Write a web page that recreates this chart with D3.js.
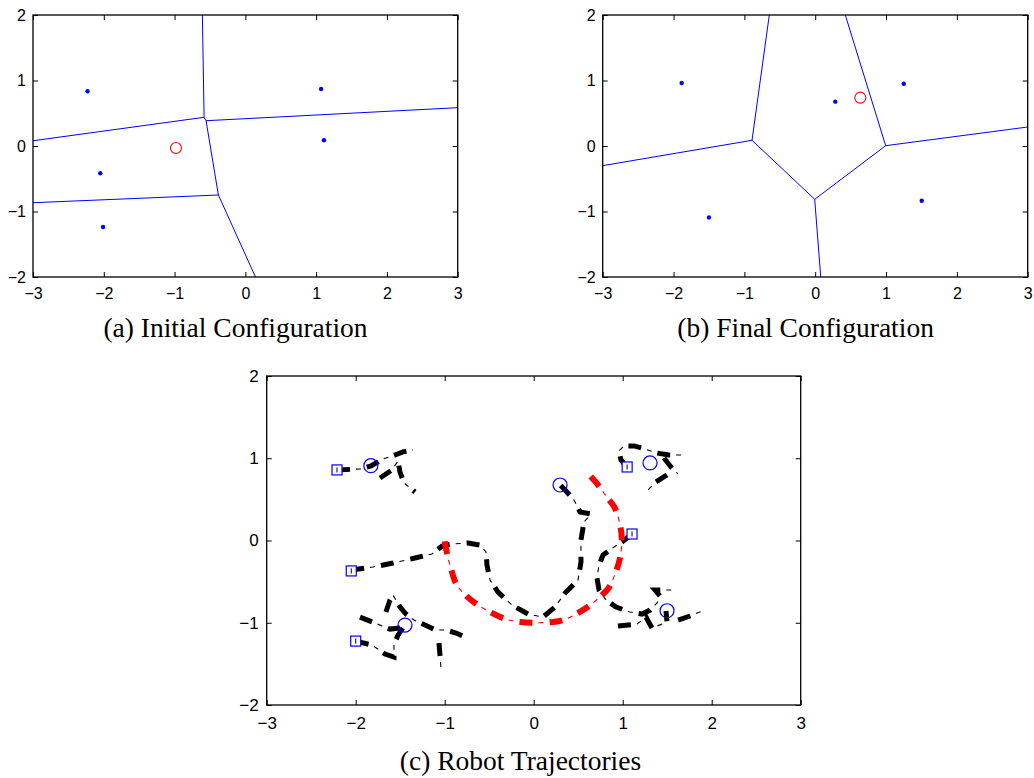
<!DOCTYPE html>
<html>
<head>
<meta charset="utf-8">
<title>Robot Coverage</title>
<style>
body { margin: 0; background: white; }
svg { display: block; }
.axis text { font-family: "Liberation Sans", Arial, sans-serif; fill: black; }
.axis line { stroke: black; }
.caption { font-family: "Liberation Serif", "Times New Roman", serif; font-size: 27.5px; fill: black; }
.frame { fill: none; stroke: black; stroke-width: 1.3; }
.voronoi { fill: none; stroke: blue; stroke-width: 1; }
</style>
</head>
<body>
<script src="https://d3js.org/d3.v7.min.js"></script>
<div id="chart"></div>
<script>
// initial robot positions (panel a)
var initX = [-2.23, -2.05, -2.01, 1.07, 1.11];
var initY = [0.835, -0.417, -1.237, 0.87, 0.087];
var initTarget = [-0.98, -0.03];

// final robot positions (panel b)
var finalX = [-1.885, -1.5, 0.284, 1.25, 1.504];
var finalY = [0.962, -1.09, 0.677, 0.951, -0.835];
var finalTarget = [0.637, 0.738];

// voronoi edges, as polylines
var voronoiA = [
    [[-0.607, 2], [-0.583, 0.438], [-3, 0.08]],
    [[-0.583, 0.438], [-0.555, 0.386], [3, 0.585]],
    [[-0.555, 0.386], [-0.381, -0.748], [-3, -0.866]],
    [[-0.381, -0.748], [0.143, -2]]
];
var voronoiB = [
    [[-3, -0.3], [-0.892, 0.087], [-0.648, 2]],
    [[-0.892, 0.087], [-0.007, -0.814], [0.078, -2]],
    [[-0.007, -0.814], [0.995, 0.005], [0.425, 2]],
    [[0.995, 0.005], [3, 0.29]]
];

// panel c: start squares, end circles
var startX = [-2.21, -2.05, -2.0, 1.05, 1.105];
var startY = [0.858, -0.37, -1.223, 0.894, 0.079];
var endX = [-1.83, -1.446, 0.296, 1.307, 1.498];
var endY = [0.91, -1.028, 0.675, 0.943, -0.854];

// target path (red)
var targetX = [-1.00, -0.97, -0.93, -0.87, -0.78, -0.66, -0.49, -0.30, -0.15, 0.02, 0.22, 0.35, 0.50, 0.63, 0.75, 0.84, 0.91, 0.97, 0.99, 0.97, 0.91, 0.82, 0.72, 0.63];
var targetY = [-0.01, -0.18, -0.34, -0.53, -0.65, -0.76, -0.87, -0.96, -0.99, -1.00, -0.99, -0.96, -0.88, -0.79, -0.68, -0.58, -0.42, -0.21, 0.01, 0.19, 0.40, 0.53, 0.68, 0.79];

// robot trajectories (black), pieces of each
var robotPaths = [
    [[-2.21, 0.858], [-1.951, 0.87], [-1.828, 0.906], [-1.693, 0.991], [-1.558, 1.04], [-1.469, 1.077], [-1.356, 1.101]],
    [[-1.727, 0.76], [-1.592, 0.858], [-1.525, 0.967], [-1.502, 0.833], [-1.458, 0.70], [-1.334, 0.59]],
    [[-1.997, -1.223], [-1.817, -1.271], [-1.671, -1.381], [-1.57, -1.417], [-1.57, -1.271], [-1.525, -1.15], [-1.446, -1.028]],
    [[-1.952, -0.931], [-1.783, -1.004], [-1.615, -1.077], [-1.502, -1.065]],
    [[-1.66, -0.87], [-1.615, -0.724], [-1.581, -0.663], [-1.502, -0.809], [-1.435, -0.894], [-1.345, -0.967], [-1.221, -1.028], [-1.098, -1.089], [-0.985, -1.089], [-0.873, -1.125], [-0.772, -1.174]],
    [[-1.064, -1.247], [-1.042, -1.551]],
    [[-2.05, -0.359], [-1.806, -0.322], [-1.581, -0.274], [-1.334, -0.213], [-1.143, -0.164], [-1.03, -0.067], [-0.918, -0.043], [-0.738, -0.03], [-0.603, -0.055], [-0.536, -0.14], [-0.525, -0.298], [-0.491, -0.48], [-0.401, -0.627], [-0.244, -0.785], [-0.064, -0.894], [0.104, -0.931], [0.239, -0.809], [0.352, -0.639], [0.498, -0.48], [0.531, -0.262], [0.531, 0.006], [0.565, 0.225], [0.644, 0.322], [0.52, 0.347], [0.453, 0.493], [0.363, 0.602], [0.296, 0.675]],
    [[1.048, 0.894], [0.981, 0.979], [0.958, 1.089], [1.014, 1.15], [1.127, 1.15], [1.25, 1.113], [1.374, 1.065], [1.52, 1.04], [1.689, 1.04]],
    [[1.464, 1.004], [1.542, 0.894], [1.621, 0.809]],
    [[1.498, 0.797], [1.374, 0.712], [1.284, 0.614]],
    [[1.105, 0.079], [0.992, -0.018], [0.869, -0.103], [0.779, -0.176], [0.734, -0.298], [0.711, -0.456], [0.734, -0.602], [0.812, -0.724], [0.925, -0.809], [1.082, -0.87], [1.217, -0.894], [1.307, -0.846], [1.385, -0.76], [1.419, -0.675], [1.363, -0.602], [1.554, -0.602]],
    [[0.947, -1.04], [1.161, -1.016], [1.262, -0.931], [1.329, -1.065], [1.498, -0.991], [1.486, -0.858]],
    [[1.622, -0.967], [1.757, -0.918], [1.891, -0.858]]
];

var xTicks = [-3, -2, -1, 0, 1, 2, 3];
var yTicks = [-2, -1, 0, 1, 2];

(function() {
    var dimensions = { width: 1034, height: 778 };
    var svg = d3.select("#chart")
        .append("svg")
        .attr("width", dimensions.width)
        .attr("height", dimensions.height);

    function make_panel(box) {
        var x = d3.scaleLinear().domain([-3, 3]).range([box.left, box.right]);
        var y = d3.scaleLinear().domain([-2, 2]).range([box.bottom, box.top]);
        var g = svg.append("g");
        var fmt = d3.format("d");

        g.append("g")
            .attr("class", "axis")
            .attr("transform", "translate(0," + box.bottom + ")")
            .call(d3.axisBottom(x).tickValues(xTicks).tickFormat(fmt)
                .tickSizeInner(-5).tickSizeOuter(0).tickPadding(box.padX));
        g.append("g")
            .attr("class", "axis")
            .attr("transform", "translate(0," + box.top + ")")
            .call(d3.axisTop(x).tickValues(xTicks).tickFormat("")
                .tickSizeInner(-5).tickSizeOuter(0));
        g.append("g")
            .attr("class", "axis")
            .attr("transform", "translate(" + box.left + ",0)")
            .call(d3.axisLeft(y).tickValues(yTicks).tickFormat(fmt)
                .tickSizeInner(-5).tickSizeOuter(0).tickPadding(box.padY));
        g.append("g")
            .attr("class", "axis")
            .attr("transform", "translate(" + box.right + ",0)")
            .call(d3.axisRight(y).tickValues(yTicks).tickFormat("")
                .tickSizeInner(-5).tickSizeOuter(0));
        g.selectAll(".domain").remove();
        g.selectAll(".axis").attr("font-size", box.fontSize).attr("font-family", null);

        var plot = g.append("g");

        g.append("rect")
            .attr("class", "frame")
            .attr("x", box.left)
            .attr("y", box.top)
            .attr("width", box.right - box.left)
            .attr("height", box.bottom - box.top);

        g.append("text")
            .attr("class", "caption")
            .attr("x", box.capX)
            .attr("y", box.capY)
            .attr("text-anchor", "middle")
            .text(box.caption);

        return { g: plot, x: x, y: y };
    }

    function draw_config(p, edges, px, py, target) {
        var line = d3.line()
            .x(function(d) { return p.x(d[0]); })
            .y(function(d) { return p.y(d[1]); });
        p.g.selectAll("path.voronoi")
            .data(edges)
            .enter().append("path")
            .attr("class", "voronoi")
            .attr("d", line);
        p.g.selectAll("circle.robot")
            .data(px)
            .enter().append("circle")
            .attr("class", "robot")
            .attr("cx", function(d) { return p.x(d); })
            .attr("cy", function(d, i) { return p.y(py[i]); })
            .attr("r", 2.2)
            .attr("fill", "blue");
        p.g.append("circle")
            .attr("cx", p.x(target[0]))
            .attr("cy", p.y(target[1]))
            .attr("r", 5.5)
            .attr("fill", "none")
            .attr("stroke", "red")
            .attr("stroke-width", 1.1);
    }

    var pa = make_panel({ left: 33, right: 457.7, top: 15, bottom: 277, padX: 10.5, padY: 7, fontSize: 16,
        caption: "(a) Initial Configuration", capX: 235.5, capY: 337 });
    draw_config(pa, voronoiA, initX, initY, initTarget);

    var pb = make_panel({ left: 602.7, right: 1027.7, top: 15, bottom: 277, padX: 10.5, padY: 7, fontSize: 16,
        caption: "(b) Final Configuration", capX: 805.6, capY: 337 });
    draw_config(pb, voronoiB, finalX, finalY, finalTarget);

    var pc = make_panel({ left: 266.7, right: 800.7, top: 376, bottom: 705, padX: 12, padY: 8, fontSize: 17,
        caption: "(c) Robot Trajectories", capX: 520.5, capY: 770 });

    var cline = d3.line()
        .x(function(d) { return pc.x(d[0]); })
        .y(function(d) { return pc.y(d[1]); });

    // dash-dot look: thick dashes plus thin dots in the gaps
    function dashdot(data, colour, width, curve) {
        var l = cline.curve(curve);
        var gp = pc.g.append("g");
        gp.selectAll("path.thick")
            .data(data)
            .enter().append("path")
            .attr("class", "thick")
            .attr("d", l)
            .attr("fill", "none")
            .attr("stroke", colour)
            .attr("stroke-width", width)
            .attr("stroke-dasharray", "13,17");
        gp.selectAll("path.thin")
            .data(data)
            .enter().append("path")
            .attr("class", "thin")
            .attr("d", l)
            .attr("fill", "none")
            .attr("stroke", colour)
            .attr("stroke-width", 1.1)
            .attr("stroke-dasharray", "0,19,5,6");
    }

    dashdot(robotPaths, "black", 5, d3.curveLinear);
    var targetPath = targetX.map(function(d, i) { return [d, targetY[i]]; });
    dashdot([targetPath], "red", 6, d3.curveCatmullRom);

    pc.g.selectAll("rect.start")
        .data(startX)
        .enter().append("rect")
        .attr("class", "start")
        .attr("x", function(d) { return pc.x(d) - 5; })
        .attr("y", function(d, i) { return pc.y(startY[i]) - 5; })
        .attr("width", 10)
        .attr("height", 10)
        .attr("fill", "white")
        .attr("stroke", "blue")
        .attr("stroke-width", 1.2);
    pc.g.selectAll("line.start")
        .data(startX)
        .enter().append("line")
        .attr("class", "start")
        .attr("x1", function(d) { return pc.x(d); })
        .attr("x2", function(d) { return pc.x(d); })
        .attr("y1", function(d, i) { return pc.y(startY[i]) - 2.5; })
        .attr("y2", function(d, i) { return pc.y(startY[i]) + 2.5; })
        .attr("stroke", "black")
        .attr("stroke-width", 1);
    pc.g.selectAll("circle.end")
        .data(endX)
        .enter().append("circle")
        .attr("class", "end")
        .attr("cx", function(d) { return pc.x(d); })
        .attr("cy", function(d, i) { return pc.y(endY[i]); })
        .attr("r", 7)
        .attr("fill", "none")
        .attr("stroke", "blue")
        .attr("stroke-width", 1.2);
})();
</script>
</body>
</html>
